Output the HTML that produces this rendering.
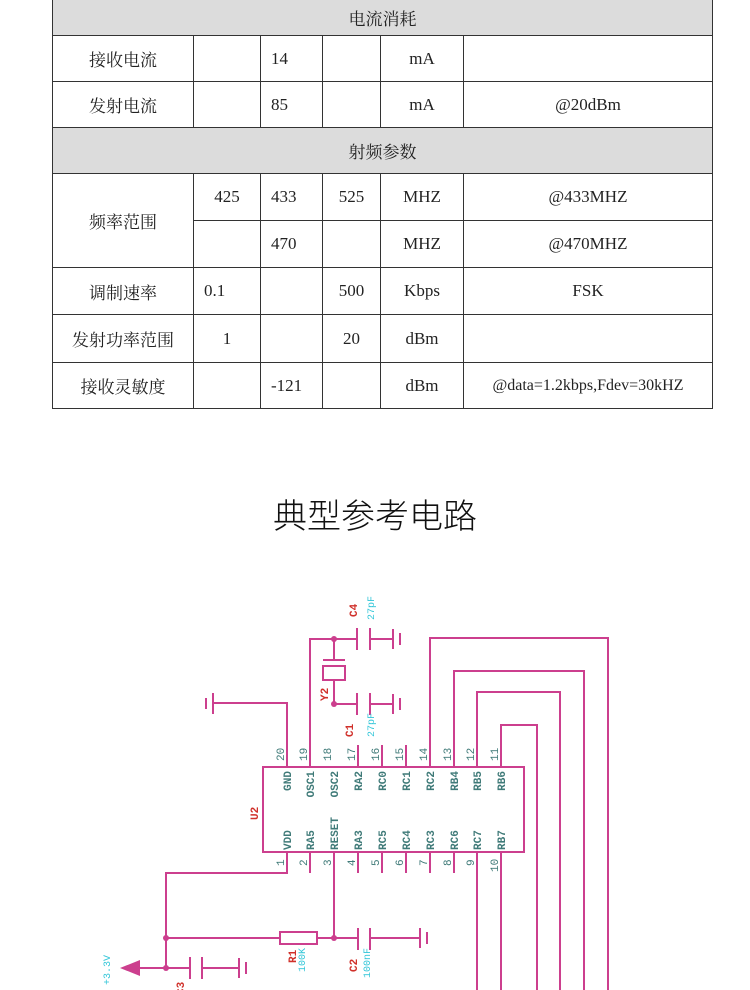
<!DOCTYPE html>
<html><head><meta charset="utf-8"><style>
body{margin:0;width:750px;height:990px;background:#fff;position:relative;overflow:hidden;font-family:"Liberation Serif","Noto Serif CJK SC",serif;}
table{position:absolute;left:52px;top:-1px;border-collapse:collapse;color:#222;font-size:17px;}
td{border:1px solid #333;text-align:center;padding:0;}
td.l{text-align:left;padding-left:10px;}
tr.g td{background:#dcdcdc;}
.t{position:absolute;left:0;width:750px;top:496px;text-align:center;font-family:"Liberation Sans","Noto Sans CJK SC",sans-serif;font-size:34px;font-weight:300;color:#111;line-height:42px;}
svg{position:absolute;left:0;top:0;}
</style></head><body>
<table>
<colgroup><col style="width:141px"><col style="width:67px"><col style="width:62px"><col style="width:58px"><col style="width:83px"><col style="width:249px"></colgroup>
<tr class="g" style="height:36px"><td colspan="6">电流消耗</td></tr>
<tr style="height:46px"><td>接收电流</td><td></td><td class="l">14</td><td></td><td>mA</td><td></td></tr>
<tr style="height:46px"><td>发射电流</td><td></td><td class="l">85</td><td></td><td>mA</td><td>@20dBm</td></tr>
<tr class="g" style="height:46px"><td colspan="6">射频参数</td></tr>
<tr style="height:47px"><td rowspan="2">频率范围</td><td>425</td><td class="l">433</td><td>525</td><td>MHZ</td><td>@433MHZ</td></tr>
<tr style="height:47px"><td></td><td class="l">470</td><td></td><td>MHZ</td><td>@470MHZ</td></tr>
<tr style="height:47px"><td>调制速率</td><td class="l">0.1</td><td></td><td>500</td><td>Kbps</td><td>FSK</td></tr>
<tr style="height:48px"><td>发射功率范围</td><td>1</td><td></td><td>20</td><td>dBm</td><td></td></tr>
<tr style="height:46px"><td>接收灵敏度</td><td></td><td class="l">-121</td><td></td><td>dBm</td><td style="font-size:16px">@data=1.2kbps,Fdev=30kHZ</td></tr>
</table>
<div class="t">典型参考电路</div>
<svg width="750" height="990" viewBox="0 0 750 990">
<g stroke="#cc3f8e" stroke-width="2" fill="none">
<rect x="263" y="767" width="261" height="85"/>
<path d="M287 767V703H214M310 767V639H357M334 639V660M334 680V704H357M358 745V767M382 745V767M406 745V767M430 767V638H608V990M454 767V671H584V990M477 767V692H560V990M501 767V725H537V990"/>
<path d="M357 628V650M370 628V650M370 639H393M393 629V649M400 633V645"/>
<path d="M357 693V715M370 693V715M370 704H393M393 694V714M400 698V710"/>
<path d="M213 693V714M206 698V709"/>
<path d="M323 660H345"/><rect x="323" y="666" width="22" height="14"/>
<path d="M287 852V873H166V968M310 852V873M334 852V938M358 852V873M382 852V873M406 852V873M430 852V873M454 852V873M477 852V990M501 852V990"/>
<path d="M166 938H280M317 938H358M358 928V950M370 928V950M370 938H420M420 928V948M427 932V944"/>
<rect x="280" y="932" width="37" height="12"/>
<path d="M135 968H190M190 957V979M202 957V979M202 968H239M239 958V978M246 962V974"/>
</g>
<g fill="#cc3f8e"><circle cx="334" cy="639" r="3"/><circle cx="334" cy="704" r="3"/><circle cx="166" cy="938" r="3"/><circle cx="334" cy="938" r="3"/><circle cx="166" cy="968" r="3"/>
<path d="M120 968L140 960V976Z"/></g>
<g font-family="Liberation Mono,monospace" font-size="11" font-weight="bold" fill="#3f7a78">
<g text-anchor="end">
<text transform="translate(291,771) rotate(-90)">GND</text>
<text transform="translate(314,771) rotate(-90)">OSC1</text>
<text transform="translate(338,771) rotate(-90)">OSC2</text>
<text transform="translate(362,771) rotate(-90)">RA2</text>
<text transform="translate(386,771) rotate(-90)">RC0</text>
<text transform="translate(410,771) rotate(-90)">RC1</text>
<text transform="translate(434,771) rotate(-90)">RC2</text>
<text transform="translate(458,771) rotate(-90)">RB4</text>
<text transform="translate(481,771) rotate(-90)">RB5</text>
<text transform="translate(505,771) rotate(-90)">RB6</text>
</g>
<text transform="translate(291,850) rotate(-90)">VDD</text>
<text transform="translate(314,850) rotate(-90)">RA5</text>
<text transform="translate(338,850) rotate(-90)">RESET</text>
<text transform="translate(362,850) rotate(-90)">RA3</text>
<text transform="translate(386,850) rotate(-90)">RC5</text>
<text transform="translate(410,850) rotate(-90)">RC4</text>
<text transform="translate(434,850) rotate(-90)">RC3</text>
<text transform="translate(458,850) rotate(-90)">RC6</text>
<text transform="translate(481,850) rotate(-90)">RC7</text>
<text transform="translate(505,850) rotate(-90)">RB7</text>
<g font-weight="normal">
<text transform="translate(284,761) rotate(-90)">20</text>
<text transform="translate(307,761) rotate(-90)">19</text>
<text transform="translate(331,761) rotate(-90)">18</text>
<text transform="translate(355,761) rotate(-90)">17</text>
<text transform="translate(379,761) rotate(-90)">16</text>
<text transform="translate(403,761) rotate(-90)">15</text>
<text transform="translate(427,761) rotate(-90)">14</text>
<text transform="translate(451,761) rotate(-90)">13</text>
<text transform="translate(474,761) rotate(-90)">12</text>
<text transform="translate(498,761) rotate(-90)">11</text>
<text transform="translate(284,866) rotate(-90)">1</text>
<text transform="translate(307,866) rotate(-90)">2</text>
<text transform="translate(331,866) rotate(-90)">3</text>
<text transform="translate(355,866) rotate(-90)">4</text>
<text transform="translate(379,866) rotate(-90)">5</text>
<text transform="translate(403,866) rotate(-90)">6</text>
<text transform="translate(427,866) rotate(-90)">7</text>
<text transform="translate(451,866) rotate(-90)">8</text>
<text transform="translate(474,866) rotate(-90)">9</text>
<text transform="translate(498,872) rotate(-90)">10</text>
</g>
</g>
<g font-family="Liberation Mono,monospace" font-size="11" font-weight="bold" fill="#d0302a">
<text transform="translate(258,820) rotate(-90)">U2</text>
<text transform="translate(357,617) rotate(-90)">C4</text>
<text transform="translate(328,701) rotate(-90)">Y2</text>
<text transform="translate(353,737) rotate(-90)">C1</text>
<text transform="translate(296,963) rotate(-90)">R1</text>
<text transform="translate(357,972) rotate(-90)">C2</text>
<text transform="translate(184,995) rotate(-90)">C3</text>
</g>
<g font-family="Liberation Mono,monospace" font-size="10" fill="#33c6d8">
<text transform="translate(374,620) rotate(-90)">27pF</text>
<text transform="translate(374,737) rotate(-90)">27pF</text>
<text transform="translate(305,972) rotate(-90)">100K</text>
<text transform="translate(370,978) rotate(-90)">100nF</text>
<text transform="translate(110,985) rotate(-90)">+3.3V</text>
</g>
</svg>
</body></html>
